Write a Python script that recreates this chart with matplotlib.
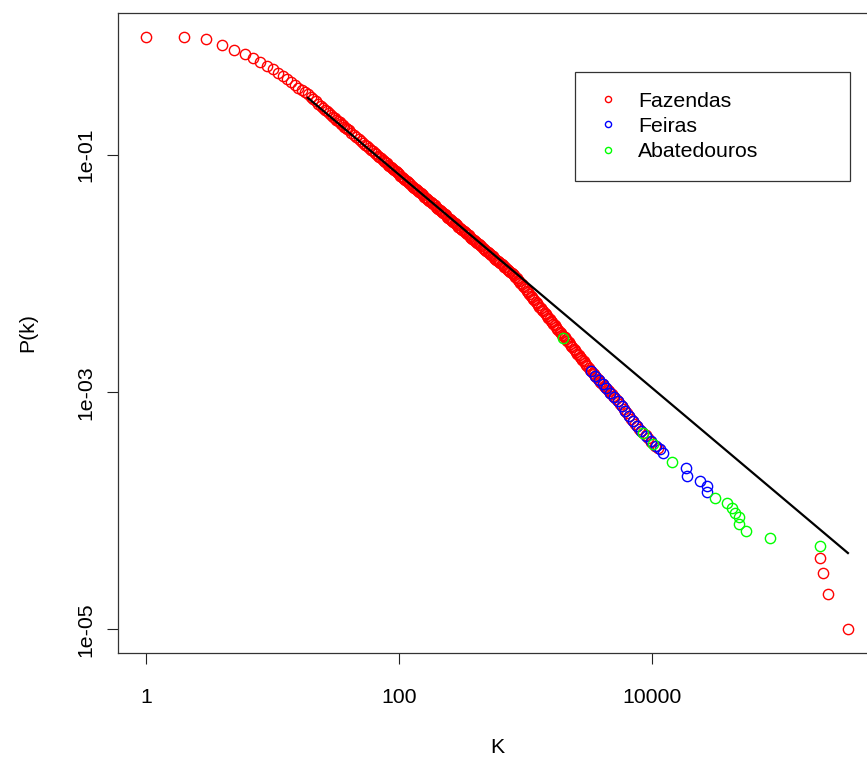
import numpy as np
import matplotlib.pyplot as plt

plt.rcParams['font.family'] = ['Liberation Sans', 'DejaVu Sans']

# degree k and cumulative probability P(k), per node type
faz_k = [1, 2, 3, 4, 5, 6, 7, 8, 9, 10,
         11, 12, 13, 14, 15, 16, 17, 18, 19, 20,
         21, 22, 23, 24, 25, 26, 27, 28, 29, 30,
         31, 32, 33, 34, 35, 36, 37, 38, 39, 40,
         42, 44, 46, 48, 50, 52, 54, 56, 58, 60,
         62, 64, 66, 68, 70, 72, 74, 76, 78, 80,
         82, 84, 86, 88, 90, 92, 94, 96, 98, 100,
         102, 105, 107, 110, 112, 115, 117, 120, 123, 126,
         129, 132, 135, 138, 141, 145, 148, 151, 155, 158,
         162, 166, 170, 174, 178, 182, 186, 191, 195, 200,
         204, 209, 214, 219, 224, 229, 234, 240, 245, 251,
         257, 263, 269, 275, 282, 288, 295, 302, 309, 316,
         324, 331, 339, 347, 355, 363, 372, 380, 389, 398,
         407, 417, 427, 437, 447, 457, 468, 479, 490, 501,
         513, 525, 537, 550, 562, 575, 589, 603, 617, 631,
         646, 661, 676, 692, 708, 724, 741, 759, 776, 794,
         813, 832, 851, 871, 891, 912, 933, 955, 977, 1000,
         1023, 1047, 1072, 1096, 1122, 1148, 1175, 1202, 1230, 1259,
         1288, 1318, 1349, 1380, 1413, 1445, 1479, 1514, 1549, 1585,
         1622, 1660, 1698, 1738, 1778, 1820, 1862, 1905, 1950, 1995,
         2042, 2089, 2138, 2188, 2239, 2291, 2344, 2399, 2455, 2512,
         2570, 2630, 2692, 2754, 2818, 2884, 2951, 3020, 3090, 3162,
         3236, 3311, 3388, 3467, 3548, 3631, 3715, 3802, 3890, 3981,
         4074, 4169, 4266, 4365, 4467, 4571, 4677, 4786, 4898, 5012,
         5188, 5370, 5559, 5754, 5957, 6166, 6383, 6607, 6839, 7079,
         7328, 7586, 7852, 8128, 8511, 8913, 9333, 9772, 10471, 11220,
         212800, 224800, 246000, 354000]
faz_p = [1.0, 0.985, 0.95, 0.848, 0.769, 0.711, 0.659, 0.609, 0.564, 0.532,
         0.495, 0.463, 0.436, 0.412, 0.391, 0.372, 0.356, 0.340, 0.327, 0.310,
         0.296, 0.284, 0.272, 0.262, 0.252, 0.243, 0.234, 0.226, 0.219, 0.212,
         0.206, 0.200, 0.194, 0.189, 0.184, 0.179, 0.1745, 0.170, 0.166, 0.162,
         0.155, 0.149, 0.143, 0.137, 0.132, 0.1275, 0.123, 0.119, 0.115, 0.1115,
         0.108, 0.105, 0.102, 0.0992, 0.0966, 0.0940, 0.0917, 0.0894, 0.0873, 0.0852,
         0.0833, 0.0814, 0.0796, 0.0780, 0.0763, 0.0748, 0.0733, 0.0719, 0.0705, 0.0689,
         0.0674, 0.0660, 0.0646, 0.0632, 0.0619, 0.0605, 0.0592, 0.0580, 0.0567, 0.0555,
         0.0543, 0.0532, 0.0520, 0.0510, 0.0499, 0.0488, 0.0478, 0.0468, 0.0458, 0.0448,
         0.0438, 0.0429, 0.0420, 0.0411, 0.0402, 0.0394, 0.0385, 0.0377, 0.0369, 0.0361,
         0.0354, 0.0346, 0.0339, 0.0331, 0.0324, 0.0317, 0.0311, 0.0304, 0.0298, 0.0291,
         0.0285, 0.0279, 0.0273, 0.0267, 0.0261, 0.0256, 0.0250, 0.0245, 0.0240, 0.0235,
         0.0230, 0.0225, 0.0220, 0.0215, 0.0211, 0.0206, 0.0202, 0.0197, 0.0193, 0.0189,
         0.0185, 0.0181, 0.0177, 0.0174, 0.0170, 0.0166, 0.0163, 0.0159, 0.0156, 0.0153,
         0.0149, 0.0146, 0.0143, 0.0140, 0.0137, 0.0134, 0.0131, 0.0128, 0.0126, 0.0123,
         0.0120, 0.0118, 0.0115, 0.0113, 0.0110, 0.0108, 0.0106, 0.0103, 0.0102, 0.0100,
         0.00972, 0.00944, 0.00917, 0.00891, 0.00866, 0.00841, 0.00817, 0.00794, 0.00767, 0.00741,
         0.00719, 0.00697, 0.00676, 0.00655, 0.00635, 0.00615, 0.00596, 0.00578, 0.00561, 0.00545,
         0.00529, 0.00513, 0.00497, 0.00482, 0.00467, 0.00453, 0.00439, 0.00426, 0.00413, 0.00400,
         0.00388, 0.00377, 0.00366, 0.00355, 0.00345, 0.00335, 0.00325, 0.00316, 0.00307, 0.00299,
         0.00290, 0.00282, 0.00273, 0.00264, 0.00256, 0.00248, 0.00240, 0.00233, 0.00226, 0.00219,
         0.00212, 0.00206, 0.00199, 0.00193, 0.00187, 0.00182, 0.00176, 0.00171, 0.00165, 0.00160,
         0.00155, 0.00151, 0.00146, 0.00142, 0.00138, 0.00134, 0.00130, 0.00127, 0.00123, 0.00120,
         0.00117, 0.00114, 0.00111, 0.00108, 0.00105, 0.00102, 0.000991, 0.000964, 0.000937, 0.000912,
         0.000875, 0.000840, 0.000802, 0.000765, 0.000728, 0.000694, 0.000662, 0.000630, 0.000600, 0.000570,
         0.000541, 0.000515, 0.000492, 0.000475, 0.000452, 0.000432, 0.000408, 0.000380, 0.000355, 0.000339,
         4.0e-5, 3.0e-5, 2.0e-5, 1.0e-5]

fei_k = [3311, 3548, 3802, 4074, 4365, 4677, 5012, 5370, 5754, 6166, 6607, 7079, 7586, 8128, 8913, 9772, 10715, 11482,
         12220, 18570, 18920, 23930, 27230, 27230]
fei_p = [0.00152, 0.00138, 0.00127, 0.00117, 0.00108, 0.00099, 0.000912, 0.00084, 0.00076, 0.000695, 0.00063, 0.00057, 0.000515, 0.000475, 0.00043, 0.000385, 0.00035, 0.00033,
         0.000305, 0.000228, 0.000195, 0.000177, 0.000161, 0.000143]

aba_k = [1980, 8511, 10230, 14390, 31480, 39170, 42850, 45290, 48750, 48750, 55340, 85700, 212800]
aba_p = [0.00286, 0.000455, 0.000365, 0.000256, 0.000128, 0.000116, 0.000105, 9.5e-05, 8.8e-05, 7.7e-05, 6.7e-05, 5.9e-05, 5.0e-05]

# power-law fit line
fit_k = [19, 354000]
fit_p = [0.305, 4.4e-5]

fig = plt.figure(figsize=(8.67, 7.6), dpi=100)
ax = fig.add_axes([118 / 867, 107 / 760, 758 / 867, 640 / 760])

mk = dict(marker='o', linestyle='none', markersize=7.4, markerfacecolor='none', markeredgewidth=1.0)
h_faz, = ax.plot(faz_k, faz_p, markeredgecolor='#FF0000', label='Fazendas', **mk)
h_fei, = ax.plot(fei_k, fei_p, markeredgecolor='#0000FF', label='Feiras', **mk)
h_aba, = ax.plot(aba_k, aba_p, markeredgecolor='#00FF00', label='Abatedouros', **mk)
ax.plot(fit_k, fit_p, color='black', lw=1.6)

ax.set_xscale('log')
ax.set_yscale('log')
ax.set_xlim(10 ** -0.222, 10 ** 5.771)
ax.set_ylim(10 ** -5.2, 10 ** 0.2)
ax.minorticks_off()
ax.set_xticks([1, 100, 10000], ['1', '100', '10000'])
ax.set_yticks([1e-1, 1e-3, 1e-5], ['1e-01', '1e-03', '1e-05'])
ax.tick_params(axis='both', length=8, width=0.8, labelsize=15.3, color='#222222')
ax.tick_params(axis='x', pad=17)
ax.tick_params(axis='y', pad=8)
for t in ax.get_yticklabels():
    t.set_rotation(90)
    t.set_va('center')
for s in ax.spines.values():
    s.set_color('#333333')
    s.set_linewidth(0.9)

ax.set_xlabel('K', fontsize=15.3)
ax.set_ylabel('P(k)', fontsize=15.3)
ax.xaxis.set_label_coords(0.5, -0.148)
ax.xaxis.label.set_va('center')
ax.yaxis.set_label_coords(-0.1187, 0.5)
ax.yaxis.label.set_va('center')

leg = ax.legend(handles=[h_faz, h_fei, h_aba], loc='upper left',
                bbox_to_anchor=(0.603, 0.739, 0.363, 0.169), mode='expand',
                borderaxespad=0, fontsize=15.3, markerscale=0.6, fancybox=False,
                borderpad=0.93, labelspacing=0.29, handlelength=1.25, handletextpad=0.79,
                edgecolor='#333333', framealpha=1)
leg.get_frame().set_linewidth(0.9)

plt.savefig('out.png', dpi=100)
